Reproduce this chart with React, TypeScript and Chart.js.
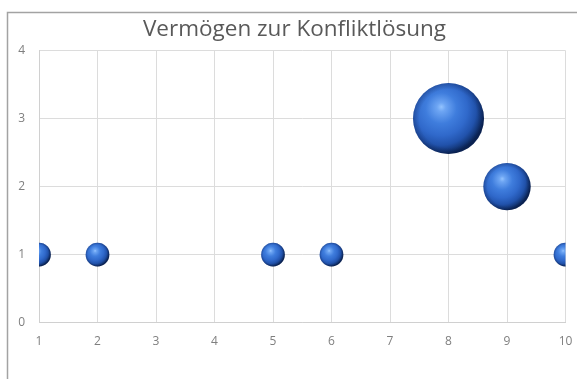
import React, { useEffect, useRef } from "react";
import { Chart, registerables } from "chart.js";

Chart.register(...registerables);

// Chart content
const TITLE = "Vermögen zur Konfliktlösung";
const xValues = [1, 2, 5, 6, 8, 9, 10];
const yValues = [1, 1, 1, 1, 3, 2, 1];
const bubbleSizes = [1, 1, 1, 1, 9, 4, 1];

// Axis ranges
const xRange = [1, 10];
const yRange = [0, 4];

const FONT = "'Open Sans', 'Liberation Sans', sans-serif";
const MAX_RADIUS = 35.5;

// Glossy sphere shading drawn over each bubble element
const sphereShading = {
  id: "sphereShading",
  afterDatasetsDraw(chart: any) {
    const { ctx, chartArea } = chart;
    const meta = chart.getDatasetMeta(0);
    ctx.save();
    ctx.beginPath();
    ctx.rect(
      chartArea.left,
      chartArea.top,
      chartArea.right - chartArea.left,
      chartArea.bottom - chartArea.top
    );
    ctx.clip();
    meta.data.forEach((el: any) => {
      const x = el.x;
      const y = el.y;
      const r = el.options.radius;
      const body = ctx.createRadialGradient(
        x - 0.2 * r,
        y - 0.33 * r,
        0,
        x - 0.22 * r,
        y - 0.22 * r,
        r * 1.24
      );
      body.addColorStop(0, "#93c3ff");
      body.addColorStop(0.1, "#6da5f3");
      body.addColorStop(0.35, "#3f7ddd");
      body.addColorStop(0.6, "#3069cb");
      body.addColorStop(0.8, "#2152ab");
      body.addColorStop(0.93, "#133676");
      body.addColorStop(1, "#0b2454");
      ctx.beginPath();
      ctx.arc(x, y, r, 0, Math.PI * 2);
      ctx.fillStyle = body;
      ctx.fill();

      const rim = ctx.createRadialGradient(x, y, r * 0.82, x, y, r);
      rim.addColorStop(0, "rgba(8,25,70,0)");
      rim.addColorStop(1, "rgba(8,25,70,0.3)");
      ctx.beginPath();
      ctx.arc(x, y, r, 0, Math.PI * 2);
      ctx.fillStyle = rim;
      ctx.fill();
    });
    ctx.restore();
  },
};

// White page and the outer chart frame
const chartFrame = {
  id: "chartFrame",
  beforeDraw(chart: any) {
    const { ctx, width, height } = chart;
    ctx.save();
    ctx.fillStyle = "#ffffff";
    ctx.fillRect(0, 0, width, height);
    ctx.strokeStyle = "#a3a3a3";
    ctx.lineWidth = 1.5;
    ctx.beginPath();
    ctx.moveTo(7.5, height);
    ctx.lineTo(7.5, 12.5);
    ctx.lineTo(width, 12.5);
    ctx.stroke();
    ctx.restore();
  },
};

export default function App() {
  const canvasRef = useRef<HTMLCanvasElement>(null);

  useEffect(() => {
    const canvas = canvasRef.current;
    if (!canvas) return;
    const maxSize = Math.max(...bubbleSizes);

    const chart = new Chart(canvas, {
      type: "bubble",
      data: {
        datasets: [
          {
            label: TITLE,
            data: xValues.map((x, i) => ({ x, y: yValues[i] })),
            backgroundColor: "rgba(0,0,0,0)",
            borderWidth: 0,
            radius: (c: any) =>
              MAX_RADIUS * Math.sqrt(bubbleSizes[c.dataIndex] / maxSize),
          } as any,
        ],
      },
      options: {
        responsive: false,
        animation: false,
        devicePixelRatio: 1,
        events: [],
        layout: {
          autoPadding: false,
          padding: { left: 12, right: 0, top: 0, bottom: 0 },
        },
        plugins: {
          legend: { display: false },
          tooltip: { enabled: false },
          title: {
            display: true,
            text: TITLE,
            color: "#595959",
            font: { family: FONT, size: 22.5, weight: "normal" },
            padding: { top: 16, bottom: 7.5 },
          },
        },
        scales: {
          x: {
            type: "linear",
            min: xRange[0],
            max: xRange[1],
            ticks: {
              stepSize: 1,
              color: "#7f7f7f",
              font: { family: FONT, size: 12 },
              padding: 12,
            },
            grid: { color: "#dcdcdc", drawTicks: false },
            border: { color: "#d0d0d0" },
            afterFit: (s: any) => {
              s.height = 56.3;
              s.paddingLeft = 0;
              s.paddingRight = 11.5;
            },
          },
          y: {
            type: "linear",
            min: yRange[0],
            max: yRange[1],
            ticks: {
              stepSize: 1,
              color: "#7f7f7f",
              font: { family: FONT, size: 12 },
              padding: 14,
            },
            grid: { color: "#dcdcdc", drawTicks: false },
            border: { color: "#d0d0d0" },
            afterFit: (s: any) => {
              s.width = 27;
              s.paddingTop = 0;
              s.paddingBottom = 0;
            },
          },
        },
      },
      plugins: [chartFrame, sphereShading],
    });

    return () => chart.destroy();
  }, []);

  return (
    <div
      style={{
        position: "fixed",
        left: 0,
        top: 0,
        width: 577,
        height: 379,
        overflow: "hidden",
        background: "#ffffff",
      }}
    >
      <canvas
        ref={canvasRef}
        width={577}
        height={379}
        style={{ display: "block", width: 577, height: 379 }}
      />
    </div>
  );
}
